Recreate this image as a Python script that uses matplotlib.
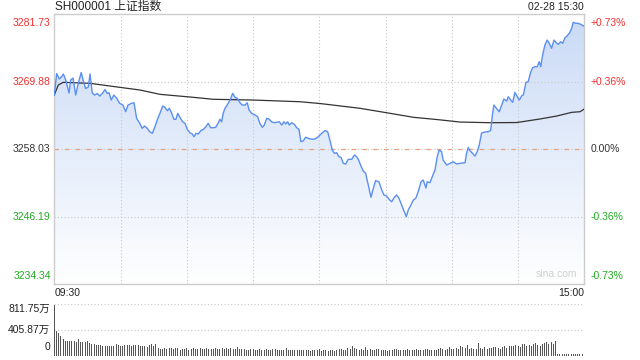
import numpy as np
import matplotlib.pyplot as plt
from matplotlib.colors import LinearSegmentedColormap
from matplotlib.patches import Polygon

plt.rcParams['font.family'] = ['Liberation Sans', 'Noto Sans CJK SC', 'DejaVu Sans']

prev_close = 3258.03
price_top = 3281.73
price_bottom = 3234.34
left_labels = [3281.73, 3269.88, 3258.03, 3246.19, 3234.34]
right_labels = ['+0.73%', '+0.36%', '0.00%', '-0.36%', '-0.73%']
label_colors = ['#f03030', '#f03030', '#333333', '#22aa22', '#22aa22']

# minutes since 09:30 (lunch break removed), index price
minute = [0.0, 1.1, 2.3, 3.5, 4.1, 5.2, 6.7, 7.4, 8.5, 9.7,
          10.9, 12.2, 13.4, 14.2, 15.4, 16.2, 17.2, 18.3, 19.5, 20.6,
          21.7, 23.0, 24.0, 24.8, 25.8, 27.0, 28.3, 29.6, 31.1, 32.3,
          33.4, 34.9, 36.1, 37.3, 38.7, 39.8, 40.9, 42.1, 43.2, 44.4,
          45.6, 46.6, 47.9, 49.1, 50.1, 51.2, 52.1, 53.2, 54.2, 55.1,
          55.9, 56.9, 58.1, 59.2, 60.2, 61.4, 62.5, 63.3, 64.2, 65.2,
          66.3, 67.5, 68.7, 69.7, 70.8, 72.0, 73.1, 74.3, 75.0, 75.8,
          76.5, 77.3, 78.3, 79.6, 80.8, 81.8, 82.9, 84.1, 85.1, 86.4,
          87.4, 88.2, 89.4, 90.9, 92.1, 93.1, 94.2, 95.1, 96.2, 97.2,
          98.4, 99.6, 100.7, 101.9, 103.0, 104.0, 104.8, 105.7, 106.4, 107.5,
          108.7, 109.8, 110.8, 111.7, 112.8, 113.8, 115.0, 116.6, 118.1, 119.3,
          120.3, 121.4, 122.6, 123.8, 124.8, 125.9, 126.8, 127.9, 128.9, 129.8,
          130.9, 132.0, 133.1, 134.7, 135.9, 136.9, 137.7, 138.9, 139.9, 141.0,
          142.2, 143.4, 144.5, 145.5, 147.0, 148.3, 149.3, 150.5, 151.6, 152.8,
          154.0, 155.0, 156.1, 157.3, 158.5, 159.4, 160.3, 161.5, 162.6, 163.7,
          164.8, 166.1, 167.1, 167.7, 168.3, 168.9, 170.1, 170.9, 172.4, 173.4,
          174.3, 175.4, 176.1, 177.7, 179.2, 180.7, 182.2, 183.7, 186.0, 186.7,
          187.5, 188.2, 189.5, 190.5, 191.5, 192.4, 193.5, 195.0, 196.5, 197.6,
          198.5, 199.1, 200.3, 201.5, 202.6, 203.6, 204.9, 205.6, 206.7, 207.6,
          208.6, 209.7, 210.6, 211.7, 212.4, 213.6, 214.6, 215.7, 216.6, 217.7,
          218.7, 219.6, 220.3, 221.2, 222.2, 223.2, 224.2, 225.2, 226.3, 227.2,
          228.2, 229.3, 230.2, 231.3, 232.3, 233.5, 234.3, 235.0, 236.2, 237.3,
          238.4, 240.0]
price = [3267.56, 3271.33, 3270.37, 3270.89, 3271.25, 3270.19, 3267.91, 3270.19, 3270.54, 3267.56,
         3269.67, 3271.51, 3269.67, 3268.70, 3268.96, 3271.25, 3267.91, 3267.56, 3267.82, 3267.38,
         3267.82, 3268.52, 3267.82, 3267.96, 3266.68, 3267.56, 3266.98, 3266.10, 3265.80, 3264.63,
         3265.80, 3266.10, 3266.21, 3263.47, 3262.59, 3261.72, 3262.12, 3261.72, 3261.12, 3260.84,
         3262.00, 3263.17, 3264.40, 3265.63, 3265.40, 3264.80, 3265.23, 3264.35, 3263.30, 3263.30,
         3264.35, 3263.65, 3262.87, 3262.59, 3261.54, 3260.94, 3260.72, 3260.24, 3260.84, 3260.72,
         3261.29, 3261.54, 3262.00, 3262.59, 3261.82, 3261.82, 3261.89, 3262.70, 3263.30, 3262.87,
         3264.35, 3265.23, 3265.80, 3266.68, 3267.86, 3267.16, 3266.98, 3266.21, 3265.80, 3265.80,
         3266.21, 3264.93, 3264.35, 3264.05, 3263.75, 3262.59, 3261.89, 3262.29, 3263.47, 3263.35,
         3262.87, 3262.70, 3262.77, 3262.87, 3262.29, 3262.87, 3262.47, 3262.87, 3262.29, 3262.70,
         3262.42, 3261.82, 3261.54, 3259.36, 3259.54, 3260.14, 3259.96, 3259.79, 3259.84, 3260.14,
         3260.54, 3260.94, 3261.33, 3261.12, 3259.66, 3257.91, 3257.33, 3257.43, 3256.73, 3256.63,
         3255.57, 3255.45, 3256.27, 3256.27, 3257.03, 3256.73, 3256.27, 3255.10, 3254.22, 3253.82,
         3251.76, 3249.61, 3251.19, 3252.52, 3252.34, 3250.89, 3250.01, 3249.83, 3249.25, 3248.83,
         3249.61, 3250.01, 3249.43, 3248.25, 3247.08, 3246.20, 3247.38, 3248.25, 3249.13, 3249.43,
         3250.59, 3252.34, 3252.64, 3251.94, 3251.24, 3252.34, 3252.17, 3252.94, 3254.40, 3256.68,
         3257.91, 3257.61, 3256.15, 3255.27, 3255.57, 3255.85, 3255.45, 3255.57, 3255.68, 3257.33,
         3258.35, 3257.82, 3257.29, 3256.85, 3257.61, 3258.70, 3260.89, 3261.07, 3261.12, 3261.33,
         3264.35, 3265.80, 3265.19, 3264.63, 3265.80, 3266.86, 3266.51, 3267.26, 3266.68, 3266.28,
         3268.03, 3267.26, 3266.68, 3267.44, 3267.56, 3269.79, 3269.89, 3271.54, 3272.35, 3272.53,
         3272.53, 3273.40, 3272.53, 3274.70, 3276.33, 3277.21, 3276.63, 3275.76, 3277.21, 3276.81,
         3276.46, 3276.91, 3276.63, 3277.62, 3277.97, 3278.56, 3279.27, 3280.32, 3280.14, 3280.14,
         3279.97, 3279.61]

# average price line
avg_minute = [0.0, 1.8, 4.1, 16.2, 25.2, 38.8, 47.9, 62.9, 72.0, 90.1,
              111.3, 120.3, 138.4, 150.5, 162.6, 173.2, 183.7, 197.3, 209.4, 219.9,
              227.5, 234.3, 238.1, 240.0]
avg_price = [3267.56, 3269.31, 3269.79, 3269.61, 3269.14, 3268.44, 3267.68, 3267.16, 3266.81, 3266.68,
             3266.38, 3266.07, 3265.23, 3264.45, 3263.65, 3263.26, 3262.82, 3262.70, 3262.73, 3263.35,
             3263.87, 3264.52, 3264.63, 3265.10]

# volume per minute, in 万 (10k lots)
volume = [800, 390, 360, 310, 270, 240, 235, 230, 230, 225,
          220, 260, 215, 210, 215, 230, 200, 190, 190, 170,
          165, 165, 160, 160, 150, 155, 150, 150, 180, 170,
          160, 150, 170, 170, 165, 150, 175, 165, 170, 160,
          150, 160, 140, 170, 180, 160, 185, 120, 110, 110,
          120, 110, 115, 120, 105, 115, 120, 95, 105, 110,
          120, 90, 110, 120, 100, 110, 120, 100, 110, 115,
          100, 110, 100, 120, 100, 110, 115, 100, 120, 110,
          125, 100, 110, 130, 110, 100, 110, 95, 90, 100,
          110, 90, 95, 100, 90, 95, 100, 90, 95, 110,
          100, 90, 95, 90, 95, 125, 90, 85, 90, 95,
          90, 85, 95, 85, 90, 95, 80, 85, 95, 90,
          100, 80, 85, 90, 80, 85, 95, 80, 90, 100,
          110, 95, 90, 120, 100, 150, 120, 110, 90, 100,
          95, 140, 90, 100, 95, 90, 100, 110, 90, 85,
          95, 80, 90, 85, 100, 110, 90, 85, 95, 90,
          100, 85, 90, 95, 100, 90, 85, 95, 110, 100,
          90, 85, 95, 90, 110, 120, 100, 95, 110, 130,
          100, 105, 120, 110, 150, 140, 120, 170, 110, 120,
          100, 110, 200, 120, 110, 130, 110, 115, 120, 130,
          140, 120, 110, 130, 150, 120, 150, 160, 160, 170,
          150, 140, 180, 190, 160, 170, 160, 180, 200, 170,
          150, 180, 200, 210, 180, 220, 190, 240, 30, 25,
          25, 25, 25, 25, 25, 25, 25, 30, 25, 20,
          673]

fig = plt.figure(figsize=(6.4, 3.6), dpi=100)
ax = fig.add_axes([0.0848, 0.2103, 0.8281, 0.75])
ax.set_xlim(0, 240)
ax.set_ylim(price_bottom, price_top)

# gradient area under the price line
grad = np.linspace(0, 1, 256).reshape(-1, 1)
cmap = LinearSegmentedColormap.from_list('blue_fade', ['#ffffff', '#c9daf6'])
im = ax.imshow(grad, extent=[0, 240, price_bottom, price_top], origin='lower',
               aspect='auto', cmap=cmap, zorder=1)
verts = [(minute[0], price_bottom)] + list(zip(minute, price)) + [(minute[-1], price_bottom)]
clip = Polygon(verts, closed=True, transform=ax.transData, facecolor='none', edgecolor='none')
ax.add_patch(clip)
im.set_clip_path(clip)

# grid
for v in [3269.88, 3246.19, prev_close]:
    ax.axhline(v, color='#c8c8c8', lw=0.8, ls=(0, (1, 2)), zorder=2)
ax.axhline(prev_close, color='#e9a07c', lw=0.9, ls=(0, (3.5, 5)), zorder=2)
for t in range(30, 240, 30):
    ax.axvline(t, color='#c8c8c8', lw=0.8, ls=(0, (1, 2)), zorder=2)

ax.plot(minute, price, color='#5b8ff0', lw=1.0, zorder=4)
ax.plot(avg_minute, avg_price, color='#333333', lw=0.9, zorder=3)

for s in ax.spines.values():
    s.set_color('#cccccc')
    s.set_linewidth(1)
ax.set_xticks([])
ax.set_yticks([])

# axis labels
fs = 7.5
for i, (v, c) in enumerate(zip(left_labels, label_colors)):
    va = 'top' if i == 0 else ('bottom' if i == len(left_labels) - 1 else 'center')
    yy = v - 0.6 if i == 0 else (v + 0.6 if i == len(left_labels) - 1 else v)
    ax.text(-1.6, yy, f'{v:.2f}', color=c, fontsize=fs, ha='right', va=va)
    ax.text(242.7, yy, right_labels[i], color=c, fontsize=fs, ha='left', va=va)

fig.text(55 / 640, 1 - 7 / 360, 'SH000001 上证指数', fontsize=8.5, color='#222222',
         ha='left', va='center')
fig.text(584 / 640, 1 - 7 / 360, '02-28 15:30', fontsize=7.5, color='#222222',
         ha='right', va='center')
fig.text(55 / 640, 1 - 293 / 360, '09:30', fontsize=7.5, color='#222222', ha='left', va='center')
fig.text(584 / 640, 1 - 293 / 360, '15:00', fontsize=7.5, color='#222222', ha='right', va='center')
ax.text(237, price_bottom + 0.9, 'sina.com', fontsize=7.5, color='#cfcfcf', ha='right', va='bottom')

# volume panel
vax = fig.add_axes([0.0848, 0.0119, 0.8281, 0.1428])
vax.set_xlim(0, 240)
vax.set_ylim(0, 811.75)
vax.bar(range(len(volume)), volume, width=0.45, color='#555555', zorder=3)
for v in [811.75, 405.87]:
    vax.axhline(v, color='#c8c8c8', lw=0.8, ls=(0, (1, 2)), clip_on=False, zorder=1)
for s in vax.spines.values():
    s.set_visible(False)
vax.set_xticks([])
vax.set_yticks([])
vax.text(-1.8, 811.75, '811.75万', fontsize=fs, ha='right', va='top', color='#222222')
vax.text(-1.8, 405.87, '405.87万', fontsize=fs, ha='right', va='center', color='#222222')
vax.text(-1.8, 60, '0', fontsize=fs, ha='right', va='bottom', color='#222222')

fig.savefig('out.png', dpi=100)
